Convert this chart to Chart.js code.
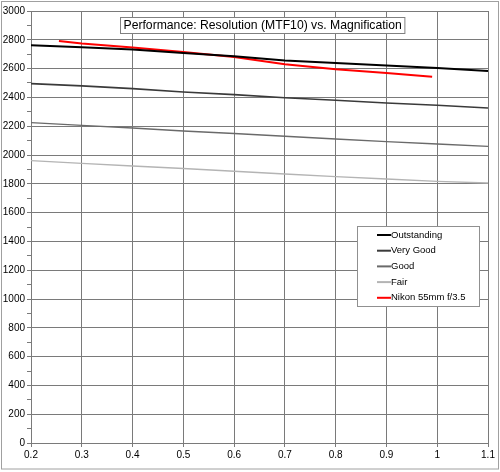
<!DOCTYPE html>
<html>
<head>
<meta charset="utf-8">
<script src="https://cdn.jsdelivr.net/npm/chart.js@4"></script>
<style>
  html, body { margin: 0; padding: 0; background: #fff; }
  #wrap { width: 500px; height: 472px; position: relative; }
</style>
</head>
<body>
<div id="wrap"><canvas id="chart" width="500" height="472"></canvas></div>
<script>
// Reference lines share the same magnification steps
const MAGS = [0.2, 0.3, 0.4, 0.5, 0.6, 0.7, 0.8, 0.9, 1.0, 1.1];
const OUTSTANDING = [2762, 2748, 2732, 2708, 2685, 2657, 2639, 2621, 2604, 2583];
const VERY_GOOD = [2496, 2480, 2461, 2438, 2419, 2398, 2380, 2361, 2345, 2326];
const GOOD = [2225, 2206, 2187, 2167, 2149, 2130, 2111, 2093, 2076, 2060];
const FAIR = [1961, 1942, 1924, 1906, 1887, 1868, 1850, 1833, 1817, 1806];

// Measured lens
const NIKON_MAGS = [0.255, 0.3, 0.4, 0.5, 0.6, 0.7, 0.8, 0.9, 0.99];
const NIKON = [2792, 2774, 2746, 2715, 2680, 2630, 2595, 2569, 2543];

const TITLE = 'Performance: Resolution (MTF10) vs. Magnification';
const FONT = 'Arial, "Liberation Sans", sans-serif';

Chart.defaults.font.family = FONT;
Chart.defaults.color = '#000';

function pts(xs, ys) {
    return xs.map((x, i) => ({ x: x, y: ys[i] }));
}

function series(label, xs, ys, color, width) {
    return {
        label: label,
        data: pts(xs, ys),
        borderColor: color,
        backgroundColor: color,
        borderWidth: width,
        pointRadius: 0,
        tension: 0,
        fill: false,
    };
}

// white page + thin grey frame
const framePlugin = {
    id: 'frame',
    beforeDraw(chart) {
        const c = chart.ctx;
        c.save();
        c.fillStyle = '#fff';
        c.fillRect(0, 0, chart.width, chart.height);
        c.strokeStyle = '#a0a0a0';
        c.lineWidth = 1;
        c.strokeRect(1.5, 1.5, 497, 467.5);
        c.restore();
    },
};

// title box sitting inside the plot area
const titleBoxPlugin = {
    id: 'titleBox',
    afterDraw(chart) {
        const c = chart.ctx;
        c.save();
        c.font = '12.2px ' + FONT;
        const w = c.measureText(TITLE).width;
        const cx = 262.5, top = 17, h = 16;
        const left = Math.round(cx - w / 2 - 3) + 0.5;
        c.fillStyle = '#fff';
        c.fillRect(left, top + 0.5, w + 6, h);
        c.strokeStyle = '#808080';
        c.lineWidth = 1;
        c.strokeRect(left, top + 0.5, w + 6, h);
        c.fillStyle = '#000';
        c.textBaseline = 'middle';
        c.fillText(TITLE, left + 3, top + h / 2 + 1);
        c.restore();
    },
};

// legend box at the lower right of the plot
const legendBoxPlugin = {
    id: 'legendBox',
    afterDraw(chart) {
        const c = chart.ctx;
        const x0 = 357.5, y0 = 226.5, bw = 122, bh = 80;
        c.save();
        c.fillStyle = '#fff';
        c.fillRect(x0, y0, bw, bh);
        c.strokeStyle = '#909090';
        c.lineWidth = 1;
        c.strokeRect(x0, y0, bw, bh);
        c.font = '9.5px ' + FONT;
        c.textBaseline = 'middle';
        chart.data.datasets.forEach((ds, i) => {
            const y = 235 + i * 15.7;
            c.strokeStyle = ds.borderColor;
            c.lineWidth = 2;
            c.beginPath();
            c.moveTo(377, y);
            c.lineTo(391, y);
            c.stroke();
            c.fillStyle = '#000';
            c.fillText(ds.label, 391, y);
        });
        c.restore();
    },
};

new Chart(document.getElementById('chart'), {
    type: 'line',
    data: {
        datasets: [
            series('Outstanding', MAGS, OUTSTANDING, '#000000', 2),
            series('Very Good', MAGS, VERY_GOOD, '#3a3a3a', 1.6),
            series('Good', MAGS, GOOD, '#6a6a6a', 1.4),
            series('Fair', MAGS, FAIR, '#b4b4b4', 1.4),
            series('Nikon 55mm f/3.5', NIKON_MAGS, NIKON, '#ff0000', 2),
        ],
    },
    options: {
        responsive: false,
        animation: false,
        layout: { padding: { left: 0, top: 11, right: 12, bottom: 0 } },
        plugins: {
            legend: { display: false },
            title: { display: false },
            tooltip: { enabled: false },
        },
        scales: {
            x: {
                type: 'linear',
                min: 0.2,
                max: 1.1,
                afterFit: (s) => { s.height = 29; },
                ticks: {
                    stepSize: 0.1,
                    font: { size: 10 },
                    padding: 2,
                    maxRotation: 0,
                    callback: (v) => String(Number(v.toFixed(1))),
                },
                grid: { color: '#7a7a7a', tickColor: '#7a7a7a', tickLength: 4, lineWidth: 1 },
                border: { color: '#7a7a7a' },
            },
            y: {
                min: 0,
                max: 3000,
                afterFit: (s) => { s.width = 31; },
                ticks: {
                    stepSize: 100,
                    autoSkip: false,
                    font: { size: 10 },
                    padding: 2,
                    callback: (v) => (v % 200 === 0 ? v : ''),
                },
                grid: {
                    color: (ctx) => (ctx.tick && ctx.tick.value % 200 === 0 ? '#7a7a7a' : 'rgba(0,0,0,0)'),
                    tickColor: '#7a7a7a',
                    tickLength: 4,
                    lineWidth: 1,
                },
                border: { color: '#7a7a7a' },
            },
        },
    },
    plugins: [framePlugin, titleBoxPlugin, legendBoxPlugin],
});
</script>
</body>
</html>
